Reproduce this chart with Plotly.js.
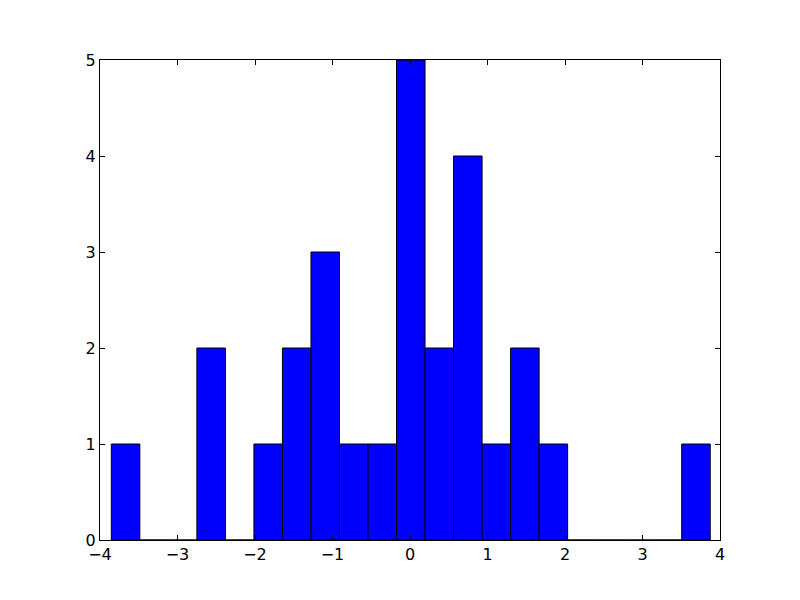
<!DOCTYPE html>
<html>
<head>
<meta charset="utf-8">
<script src="https://cdn.plot.ly/plotly-3.0.1.min.js"></script>
<style>html,body{margin:0;padding:0;background:#fff;}#chart{width:800px;height:600px;}</style>
</head>
<body>
<div id="chart"></div>
<script>
// Histogram: 21 equal bins
const binStart = -3.854;
const binWidth = 0.368;
const counts = [1, 0, 0, 2, 0, 1, 2, 3, 1, 1, 5, 2, 4, 1, 2, 1, 0, 0, 0, 0, 1];
const xTicks = [-4, -3, -2, -1, 0, 1, 2, 3, 4];
const xTickText = ['\u22124', '\u22123', '\u22122', '\u22121', '0', '1', '2', '3', '4'];
const yTicks = [0, 1, 2, 3, 4, 5];

const centers = counts.map((_, i) => binStart + binWidth * (i + 0.5));

const trace = {
  type: 'bar',
  x: centers,
  y: counts,
  width: binWidth,
  marker: {color: '#0000ff', line: {color: '#000000', width: 1}},
  hoverinfo: 'x+y'
};

const axisCommon = {
  showgrid: false,
  zeroline: false,
  showline: true,
  linecolor: '#000',
  linewidth: 1,
  mirror: 'ticks',
  ticks: 'inside',
  ticklen: 5,
  tickcolor: '#000',
  tickwidth: 1,
  tickfont: {family: 'DejaVu Sans', size: 16, color: '#000'}
};

const layout = {
  width: 800, height: 600,
  margin: {l: 100, r: 80, t: 60, b: 60},
  paper_bgcolor: '#fff', plot_bgcolor: '#fff',
  showlegend: false,
  bargap: 0,
  xaxis: Object.assign({}, axisCommon, {range: [-4, 4], tickvals: xTicks, ticktext: xTickText}),
  yaxis: Object.assign({}, axisCommon, {range: [0, 5], tickvals: yTicks})
};

Plotly.newPlot('chart', [trace], layout, {displayModeBar: false, staticPlot: true});
</script>
</body>
</html>
